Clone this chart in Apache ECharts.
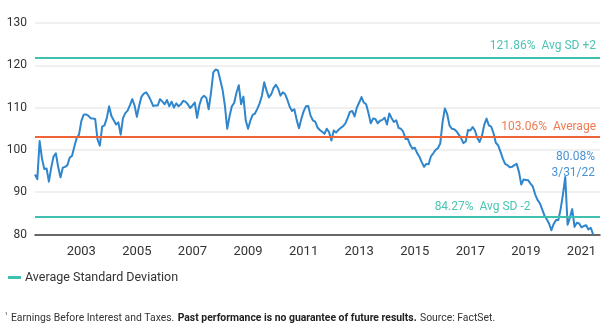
<!DOCTYPE html>
<html>
<head>
<meta charset="utf-8">
<script src="https://cdn.jsdelivr.net/npm/echarts@6/dist/echarts.min.js"></script>
<style>
  html, body { margin: 0; padding: 0; background: #ffffff; }
  #chart { width: 602px; height: 329px; }
</style>
</head>
<body>
<div id="chart"></div>
<script>
// Monthly ratio readings, first month and values
const firstMonth = '2002-02';
const ratioValues = [
  94.2, 93.1, 102.1, 98.0, 95.5, 95.6, 92.5, 95.8, 98.4, 99.2,
  96.0, 93.5, 95.8, 96.0, 96.4, 98.2, 98.6, 100.8, 102.8, 103.6,
  106.8, 108.3, 108.4, 108.1, 107.5, 107.4, 107.3, 102.5, 101.0, 105.5,
  105.8, 107.5, 110.3, 108.0, 107.0, 106.0, 106.5, 103.6, 107.5, 108.7,
  109.3, 110.6, 112.0, 110.5, 107.8, 110.5, 112.6, 113.3, 113.6, 112.8,
  111.7, 110.4, 110.5, 110.5, 112.0, 111.4, 110.8, 111.8, 110.3, 111.4,
  110.0, 111.0, 110.3, 110.8, 111.6, 111.4, 110.8, 109.9, 110.5, 111.2,
  107.6, 110.6, 112.3, 112.8, 112.3, 109.6, 113.5, 118.3, 119.0, 118.8,
  116.5, 114.2, 110.5, 105.0, 107.9, 110.3, 111.1, 113.5, 115.3, 110.8,
  112.6, 107.0, 105.0, 106.9, 108.3, 108.6, 109.7, 111.0, 112.8, 116.0,
  114.0, 112.4, 113.1, 114.6, 115.4, 114.5, 112.8, 113.6, 113.2, 111.8,
  110.2, 109.2, 109.6, 107.1, 105.1, 107.3, 109.1, 110.3, 110.4, 108.1,
  107.0, 106.7, 105.3, 104.7, 104.3, 103.8, 105.0, 104.2, 102.2, 104.6,
  104.1, 104.7, 105.2, 105.6, 106.2, 107.5, 109.0, 109.2, 107.9, 110.0,
  111.2, 112.5, 111.2, 110.8, 108.7, 106.3, 107.4, 107.3, 106.3, 106.9,
  107.1, 107.6, 106.0, 108.6, 107.5, 106.6, 107.0, 105.2, 105.0, 104.3,
  102.6, 102.6, 101.2, 100.3, 100.5, 99.3, 98.4, 97.1, 96.0, 96.7,
  96.6, 98.5, 99.2, 100.0, 100.4, 101.5, 106.5, 109.8, 108.5, 105.8,
  105.0, 104.9, 104.4, 103.6, 102.8, 101.6, 102.0, 104.7, 104.6, 105.4,
  104.6, 102.8, 101.9, 103.3, 105.9, 107.4, 105.8, 105.5, 104.0, 101.7,
  101.1, 99.6, 98.0, 96.7, 96.4, 95.9, 96.0, 96.4, 96.7, 94.8,
  91.8, 93.0, 92.9, 92.8, 92.0, 91.3, 89.5, 88.2, 87.4, 86.0,
  84.5, 83.6, 82.6, 81.0, 82.5, 83.4, 83.4, 86.0, 89.5, 93.6,
  82.3, 84.0, 86.0, 81.8, 82.8, 82.6, 81.7, 82.0, 82.2, 81.2,
  81.6, 80.08
];

// Reference levels
const averageLevel = 103.06;
const upperBand = 121.86;
const lowerBand = 84.27;

// Axis ticks
const yTicks = [80, 90, 100, 110, 120, 130];
const yearTicks = ['2003', '2005', '2007', '2009', '2011', '2013', '2015', '2017', '2019', '2021'];
const yearTickMonth = '10';
const trailingMonths = 3;
const lastDateText = '3/31/22';
const lowerLabelMonth = '2019-12';

// Month categories for the horizontal axis (a few empty months trail the data)
function buildMonths(start, count) {
  let y = +start.slice(0, 4), m = +start.slice(5, 7);
  const out = [];
  for (let i = 0; i < count; i++) {
    out.push(y + '-' + String(m).padStart(2, '0'));
    m++;
    if (m > 12) { m = 1; y++; }
  }
  return out;
}
const months = buildMonths(firstMonth, ratioValues.length + trailingMonths);
const lastMonth = months[ratioValues.length - 1];
const lastValue = ratioValues[ratioValues.length - 1];

const BLUE = '#2f86cc';
const TEAL = '#3fbfad';
const TEAL_TEXT = '#4dc4b3';
const ORANGE = '#ef6339';
const ORANGE_TEXT = '#f07a4f';
const FONT = 'Roboto, "Noto Sans", sans-serif';

const chart = echarts.init(document.getElementById('chart'), null, { renderer: 'canvas' });

chart.setOption({
  animation: false,
  backgroundColor: '#ffffff',
  textStyle: { fontFamily: FONT },
  grid: { left: 35, right: 2, top: 23, bottom: 94.5, containLabel: false },
  legend: {
    data: ['Average Standard Deviation'],
    left: 3,
    top: 266,
    icon: 'rect',
    itemWidth: 13,
    itemHeight: 3,
    itemGap: 6,
    textStyle: { fontFamily: FONT, fontSize: 12.5, color: '#333333', padding: [0, 0, 0, -1] },
    selectedMode: false
  },
  xAxis: {
    type: 'category',
    data: months,
    boundaryGap: false,
    axisLine: { show: true, lineStyle: { color: '#3a3a3a', width: 1.5 } },
    axisTick: { show: false },
    splitLine: { show: false },
    axisLabel: {
      interval: (idx, val) => val.slice(5) === yearTickMonth && yearTicks.includes(val.slice(0, 4)),
      formatter: (val) => val.slice(0, 4),
      color: '#333333',
      fontSize: 13,
      fontFamily: FONT,
      margin: 11
    }
  },
  yAxis: {
    type: 'value',
    min: yTicks[0],
    max: yTicks[yTicks.length - 1],
    interval: 10,
    axisLine: { show: false },
    axisTick: { show: false },
    splitLine: { show: true, lineStyle: { color: '#ebebeb', width: 1.5 } },
    axisLabel: { color: '#333333', fontSize: 12, fontFamily: FONT, margin: 8 }
  },
  series: [
    {
      name: 'Average Standard Deviation',
      type: 'line',
      data: [],
      z: 1,
      color: TEAL,
      itemStyle: { color: TEAL },
      lineStyle: { color: TEAL, width: 2 },
      markLine: {
        silent: true,
        symbol: ['none', 'none'],
        label: { show: false },
        lineStyle: { color: TEAL, width: 2, type: 'solid' },
        data: [{ yAxis: upperBand }, { yAxis: lowerBand }]
      }
    },
    {
      name: 'Average',
      type: 'line',
      data: [],
      z: 1,
      color: ORANGE,
      markLine: {
        silent: true,
        symbol: ['none', 'none'],
        label: { show: false },
        lineStyle: { color: ORANGE, width: 2, type: 'solid' },
        data: [{ yAxis: averageLevel }]
      }
    },
    {
      name: 'Ratio',
      type: 'line',
      data: ratioValues,
      z: 3,
      showSymbol: false,
      symbol: 'none',
      color: BLUE,
      lineStyle: { color: BLUE, width: 2, join: 'round' }
    }
  ]
});

// Annotations placed through the axes' own coordinate conversion
function px(cat, val) {
  return chart.convertToPixel({ xAxisIndex: 0, yAxisIndex: 0 }, [cat, val]);
}
const endCat = months[months.length - 1];
const pUpper = px(endCat, upperBand);
const pAvg = px(endCat, averageLevel);
const pLower = px(lowerLabelMonth, lowerBand);
const pLast = px(lastMonth, lastValue);

const annoFont = { fontFamily: FONT, fontSize: 12 };
chart.setOption({
  graphic: [
    {
      type: 'text', x: pUpper[0] - 4, y: pUpper[1] - 11,
      style: Object.assign({ text: upperBand.toFixed(2) + '%  Avg SD +2', fill: TEAL_TEXT, align: 'right', verticalAlign: 'middle' }, annoFont)
    },
    {
      type: 'text', x: pAvg[0] - 4, y: pAvg[1] - 9.5,
      style: Object.assign({ text: averageLevel.toFixed(2) + '%  Average', fill: ORANGE_TEXT, align: 'right', verticalAlign: 'middle' }, annoFont)
    },
    {
      type: 'text', x: pLower[0], y: pLower[1] - 9.5,
      style: Object.assign({ text: lowerBand.toFixed(2) + '%  Avg SD -2', fill: TEAL_TEXT, align: 'right', verticalAlign: 'middle' }, annoFont)
    },
    {
      type: 'text', x: pLast[0] + 2, y: pLast[1] - 69,
      style: Object.assign({ text: lastValue.toFixed(2) + '%\n' + lastDateText, fill: '#4a93d3', align: 'right', verticalAlign: 'middle', lineHeight: 16 }, annoFont)
    },
    {
      type: 'text', left: 5, top: 312,
      style: {
        text: '{s|¹} {n|Earnings Before Interest and Taxes.} {b|Past performance is no guarantee of future results.} {n|Source: FactSet.}',
        rich: {
          s: { fontSize: 7, fontFamily: FONT, fill: '#333333', verticalAlign: 'top' },
          n: { fontSize: 10.4, fontFamily: FONT, fill: '#333333' },
          b: { fontSize: 10.4, fontFamily: FONT, fontWeight: 'bold', fill: '#222222' }
        }
      }
    }
  ]
});
</script>
</body>
</html>
